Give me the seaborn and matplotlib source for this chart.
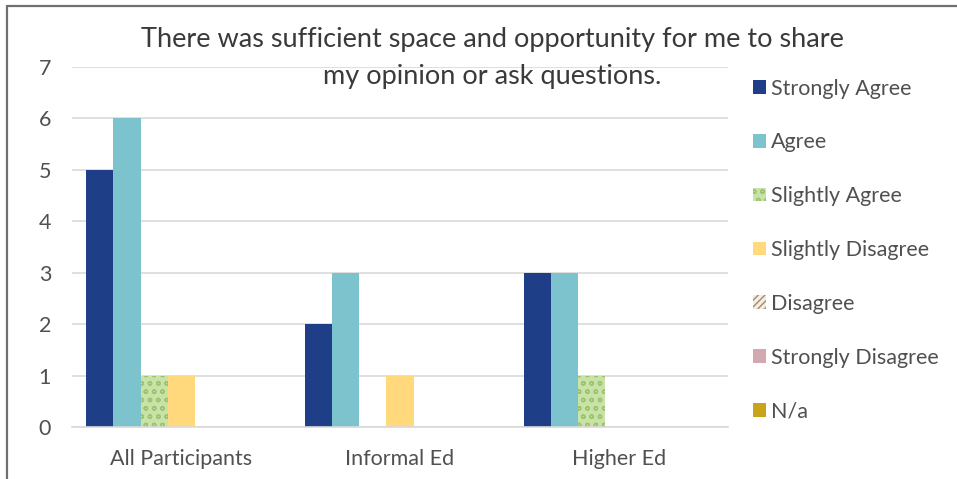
import matplotlib
matplotlib.use("Agg")
import matplotlib.pyplot as plt
from matplotlib.patches import Patch
from matplotlib.lines import Line2D
import seaborn as sns
import pandas as pd

groups = ["All Participants", "Informal Ed", "Higher Ed"]
responses = ["Strongly Agree", "Agree", "Slightly Agree", "Slightly Disagree",
             "Disagree", "Strongly Disagree", "N/a"]
strongly_agree = [5, 2, 3]
agree = [6, 3, 3]
slightly_agree = [1, 0, 1]
slightly_disagree = [1, 1, 0]
disagree = [0, 0, 0]
strongly_disagree = [0, 0, 0]
na = [0, 0, 0]
title_line1 = "There was sufficient space and opportunity for me to share"
title_line2 = "my opinion or ask questions."

series = [strongly_agree, agree, slightly_agree, slightly_disagree,
          disagree, strongly_disagree, na]
rows = []
for r, vals in zip(responses, series):
    for g, v in zip(groups, vals):
        rows.append({"group": g, "response": r, "count": v})
df = pd.DataFrame(rows)

colors = ["#1F3E88", "#7DC3CD", "#C9E2A8", "#FFD97C", "#F4EEE2", "#D4A8B1", "#C9A31A"]
hatches = [None, None, "oo", None, "/////", None, None]
hatch_colors = [None, None, "#9DC46F", None, "#A08A6A", None, None]

sns.set_theme(style="white")
plt.rcParams["font.family"] = ["Lato", "DejaVu Sans"]
plt.rcParams["hatch.linewidth"] = 1.0

fig = plt.figure(figsize=(9.57, 4.79), dpi=100)
ax = fig.add_axes([72 / 957, 1 - 427 / 479, (728 - 72) / 957, (427 - 67) / 479])

sns.barplot(data=df, x="group", y="count", hue="response", order=groups,
            hue_order=responses, palette=colors, width=0.87, ax=ax,
            legend=False, saturation=1, linewidth=0, errorbar=None)

for i, cont in enumerate(ax.containers):
    for bar in cont:
        bar.set_linewidth(0)
        if hatches[i]:
            bar.set_hatch(hatches[i])
            bar.set_edgecolor(hatch_colors[i])

ax.set_ylim(0, 7)
ax.set_yticks(range(0, 8))
ax.set_xlim(-0.5, 2.5)
ax.yaxis.grid(True, color="#D9D9D9", linewidth=1.2)
ax.set_axisbelow(True)
for s in ["top", "right", "left"]:
    ax.spines[s].set_visible(False)
ax.spines["bottom"].set_color("#D9D9D9")
ax.spines["bottom"].set_linewidth(1.2)
ax.set_xlabel("")
ax.set_ylabel("")
ax.tick_params(axis="both", length=0, labelsize=15.5, labelcolor="#505050")
ax.tick_params(axis="y", pad=15)
ax.tick_params(axis="x", pad=16)

fig.text(492 / 957, 1 - 40 / 479, title_line1,
         ha="center", va="center", fontsize=19.5, color="#3A3A3A")
fig.text(492 / 957, 1 - 76 / 479, title_line2,
         ha="center", va="center", fontsize=19.5, color="#3A3A3A")

handles = []
for c, h, hc in zip(colors, hatches, hatch_colors):
    if h:
        handles.append(Patch(facecolor=c, hatch=h, edgecolor=hc, linewidth=0))
    else:
        handles.append(Patch(facecolor=c, linewidth=0))
leg = fig.legend(handles, responses, loc="center left",
                 bbox_to_anchor=(753 / 957, 1 - 250 / 479), frameon=False,
                 fontsize=15.5, labelspacing=1.57, handlelength=0.6,
                 handleheight=0.6, handletextpad=0.25, borderpad=0,
                 borderaxespad=0)
for t in leg.get_texts():
    t.set_color("#505050")

fig.add_artist(Line2D([7.5 / 957, 7.5 / 957], [0, 1 - 6 / 479], color="#707070", linewidth=1.6))
fig.add_artist(Line2D([7.5 / 957, 1], [1 - 6 / 479, 1 - 6 / 479], color="#707070", linewidth=1.6))

fig.savefig("out.png", dpi=100)
